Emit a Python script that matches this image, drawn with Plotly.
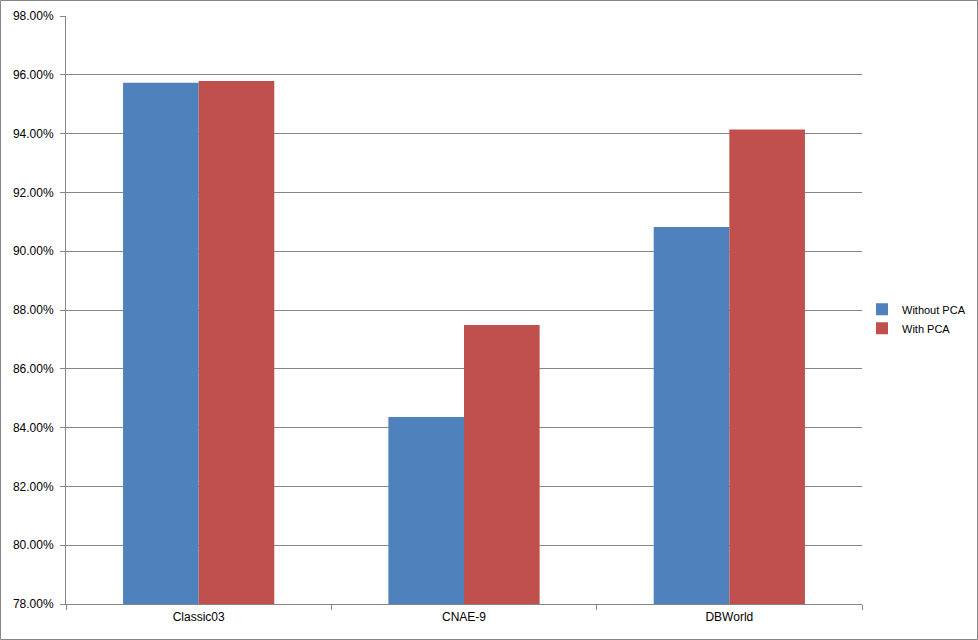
import plotly.graph_objects as go

datasets = ["Classic03", "CNAE-9", "DBWorld"]
without_pca = [0.9573, 0.8436, 0.9082]
with_pca = [0.9579, 0.8749, 0.9414]

W, H = 978, 640
ml, mr, mt, mb = 66, 116, 16, 36
pw, ph = W - ml - mr, H - mt - mb

fig = go.Figure()
fig.add_trace(go.Bar(x=datasets, y=without_pca, name="Without PCA",
                     marker={"color": "#4F81BD", "line": {"width": 0}}))
fig.add_trace(go.Bar(x=datasets, y=with_pca, name="With PCA",
                     marker={"color": "#C0504D", "line": {"width": 0}}))

axis_line = "#868686"
fig.update_layout(
    width=W,
    height=H,
    margin={"l": ml, "r": mr, "t": mt, "b": mb, "pad": 0, "autoexpand": False},
    paper_bgcolor="white",
    plot_bgcolor="white",
    font={"family": "Liberation Sans, Arial, sans-serif", "size": 12, "color": "#000000"},
    barmode="group",
    bargap=0.43,
    bargroupgap=0,
    showlegend=True,
    legend={"x": 862 / W, "y": 0.485, "xref": "container", "xanchor": "left",
            "yanchor": "middle", "font": {"size": 11}, "itemwidth": 30,
            "tracegroupgap": 10},
    shapes=[{
        "type": "rect", "xref": "paper", "yref": "paper",
        "x0": (0.5 - ml) / pw, "x1": (W - 0.5 - ml) / pw,
        "y0": -(mb - 0.5) / ph,
        "y1": 1 + (mt - 0.5) / ph,
        "line": {"color": axis_line, "width": 1},
        "layer": "below",
    }],
)
fig.update_xaxes(
    showline=True, linecolor=axis_line, linewidth=1,
    ticks="outside", tickson="boundaries", ticklen=5, tickcolor=axis_line,
    showgrid=False, tickfont={"size": 12}, ticklabelstandoff=2,
)
fig.update_yaxes(
    range=[0.78, 0.98], dtick=0.02, tick0=0.78, tickformat=".2%",
    showline=True, linecolor=axis_line, linewidth=1,
    ticks="outside", ticklen=5, tickcolor=axis_line,
    showgrid=True, gridcolor=axis_line, gridwidth=1,
    zeroline=False, tickfont={"size": 12}, ticklabelstandoff=4,
)

fig.write_html("out.html", config={"displayModeBar": False},
               post_script="document.body.style.margin='0';")
